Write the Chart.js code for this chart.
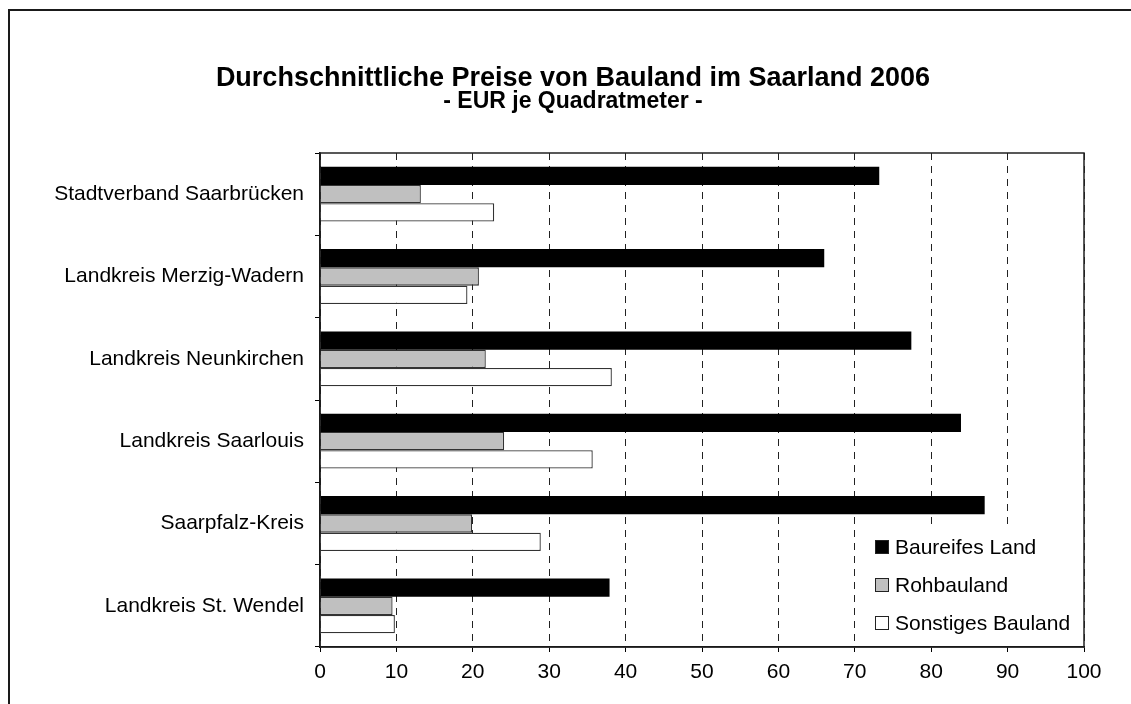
<!DOCTYPE html>
<html lang="de">
<head>
<meta charset="utf-8">
<title>Durchschnittliche Preise von Bauland im Saarland 2006</title>
<script src="https://cdn.jsdelivr.net/npm/chart.js@4.4.1/dist/chart.umd.min.js"></script>
<style>
  html, body { margin: 0; padding: 0; background: #fff; overflow: hidden; }
  #wrap { position: relative; width: 1131px; height: 704px; overflow: hidden; }
  #frame { position: absolute; left: 8px; top: 9px; width: 1400px; height: 900px; border: 2px solid #1a1a1a; }
  #chart { position: absolute; left: 0; top: 0; }
</style>
</head>
<body>
<div id="wrap">
  <div id="frame"></div>
  <canvas id="chart" width="1131" height="704"></canvas>
</div>
<script>
// Kreise / Stadtverband
const kreise = [
  "Stadtverband Saarbrücken",
  "Landkreis Merzig-Wadern",
  "Landkreis Neunkirchen",
  "Landkreis Saarlouis",
  "Saarpfalz-Kreis",
  "Landkreis St. Wendel"
];

// EUR je m²
const baureifesLand = [73.2, 66.0, 77.4, 83.9, 87.0, 37.9];
const rohbauland = [13.2, 20.8, 21.7, 24.1, 19.9, 9.5];
const sonstigesBauland = [22.8, 19.3, 38.2, 35.7, 28.9, 9.8];

const xMin = 0;
const xMax = 100;
const xStep = 10;

const FONT = "'Liberation Sans', Arial, Helvetica, sans-serif";

// y-Achse nach links erweitern, damit lange Beschriftungen nicht abgeschnitten werden
const wideYAxis = {
  id: "wideYAxis",
  afterLayout(chart) {
    chart.scales.y.left = 10;
  }
};

// Legende innerhalb der Zeichenfläche (unten rechts)
const innerLegend = {
  id: "innerLegend",
  afterDraw(chart) {
    const ctx = chart.ctx;
    const ca = chart.chartArea;
    ctx.save();
    ctx.fillStyle = "#fff";
    ctx.fillRect(ca.right - 216, ca.bottom - 121, 215, 120);
    ctx.font = "21px " + FONT;
    ctx.textBaseline = "middle";
    ctx.textAlign = "left";
    chart.data.datasets.forEach((ds, i) => {
      const top = ca.bottom - 107 + i * 38;
      ctx.fillStyle = ds.backgroundColor;
      ctx.fillRect(ca.right - 209, top, 14, 14);
      ctx.strokeStyle = "#222";
      ctx.lineWidth = 1;
      ctx.strokeRect(ca.right - 208.5, top + 0.5, 13, 13);
      ctx.fillStyle = "#000";
      ctx.fillText(ds.label, ca.right - 189, top + 8);
    });
    // Rahmen der Zeichenfläche
    ctx.strokeStyle = "#222";
    ctx.lineWidth = 1.5;
    ctx.strokeRect(ca.left, ca.top, ca.right - ca.left, ca.bottom - ca.top);
    ctx.restore();
  }
};

new Chart(document.getElementById("chart"), {
  type: "bar",
  data: {
    labels: kreise,
    datasets: [
      {
        label: "Baureifes Land",
        data: baureifesLand,
        backgroundColor: "#000000",
        borderWidth: 0
      },
      {
        label: "Rohbauland",
        data: rohbauland,
        backgroundColor: "#C0C0C0",
        borderColor: "#333",
        borderWidth: 1.3
      },
      {
        label: "Sonstiges Bauland",
        data: sonstigesBauland,
        backgroundColor: "#FFFFFF",
        borderColor: "#333",
        borderWidth: 1.3
      }
    ]
  },
  options: {
    indexAxis: "y",
    responsive: false,
    animation: false,
    devicePixelRatio: 1,
    categoryPercentage: 0.667,
    barPercentage: 1.0,
    layout: {
      padding: { left: 62, right: 47, top: 10, bottom: 7 }
    },
    scales: {
      x: {
        min: xMin,
        max: xMax,
        ticks: {
          stepSize: xStep,
          color: "#000",
          padding: 8,
          font: { family: FONT, size: 21 }
        },
        grid: {
          color: "#222",
          lineWidth: 1,
          tickColor: "#000",
          tickLength: 5
        },
        border: { color: "#000", width: 1.5, dash: [7, 6] },
        afterFit(scale) { scale.height = 50; }
      },
      y: {
        ticks: {
          color: "#000",
          padding: 11,
          font: { family: FONT, size: 21 }
        },
        grid: {
          offset: true,
          drawOnChartArea: false,
          color: "#000",
          tickLength: 5
        },
        border: { color: "#000", width: 1.5 },
        afterFit(scale) { scale.width = 258; }
      }
    },
    plugins: {
      legend: { display: false },
      tooltip: { enabled: false },
      title: {
        display: true,
        text: "Durchschnittliche Preise von Bauland im Saarland 2006",
        color: "#000",
        font: { family: FONT, size: 27, weight: "bold", lineHeight: 1 },
        padding: { top: 55, bottom: 0 }
      },
      subtitle: {
        display: true,
        text: "- EUR je Quadratmeter -",
        color: "#000",
        font: { family: FONT, size: 23, weight: "bold", lineHeight: 0.85 },
        padding: { top: 0, bottom: 41.45 }
      }
    }
  },
  plugins: [wideYAxis, innerLegend]
});
</script>
</body>
</html>
